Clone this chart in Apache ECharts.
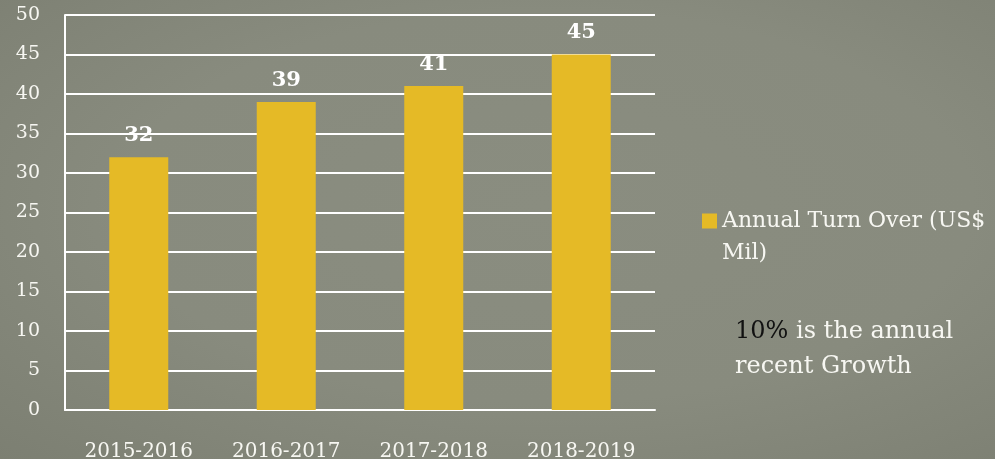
<!DOCTYPE html>
<html>
<head>
<meta charset="utf-8">
<script src="https://cdn.jsdelivr.net/npm/echarts@6/dist/echarts.min.js"></script>
<style>
html,body{margin:0;padding:0;background:#878a7d;}
#c{width:995px;height:459px;background:radial-gradient(ellipse at 55% 45%, #8a8d80 0%, #888b7e 55%, #7c7f72 100%);}
</style>
</head>
<body>
<div id="c"></div>
<script>
const categories = ['2015-2016', '2016-2017', '2017-2018', '2018-2019'];
const turnOver = [32, 39, 41, 45];
const seriesName = 'Annual Turn Over (US$ Mil)';
const yMin = 0, yMax = 50, yStep = 5;

const FONT = 'DejaVu Serif';
const chart = echarts.init(document.getElementById('c'));
chart.setOption({
  backgroundColor: 'transparent',
  animation: false,
  grid: {left: 65, right: 340, top: 15, bottom: 49, outerBoundsMode: 'none', containLabel: false},
  legend: {
    left: 697, top: 168,
    itemWidth: 15, itemHeight: 15,
    icon: 'rect',
    data: [seriesName],
    formatter: function () { return ' \nAnnual Turn Over (US$\nMil)'; },
    textStyle: {color: '#f7f7f2', fontFamily: FONT, fontSize: 22, lineHeight: 32}
  },
  xAxis: {
    type: 'category', data: categories,
    axisLine: {lineStyle: {color: '#ffffff', width: 2}},
    axisTick: {show: false},
    axisLabel: {color: '#f7f7f2', fontFamily: FONT, fontSize: 20, margin: 32}
  },
  yAxis: {
    type: 'value', min: yMin, max: yMax, interval: yStep,
    axisLine: {show: true, lineStyle: {color: '#ffffff', width: 2}},
    axisTick: {show: false},
    splitLine: {lineStyle: {color: '#ffffff', width: 2}},
    axisLabel: {color: '#f7f7f2', fontFamily: FONT, fontSize: 19, margin: 25}
  },
  series: [{
    name: seriesName, type: 'bar', data: turnOver,
    barWidth: '40%',
    itemStyle: {color: '#e5ba26'},
    label: {show: true, position: 'top', distance: 11, color: '#ffffff', fontFamily: FONT, fontWeight: 'bold', fontSize: 21}
  }],
  graphic: [{
    type: 'text', left: 735, top: 314,
    style: {
      text: '{k|10%} is the annual\nrecent Growth',
      fill: '#f7f7f2', font: '24px "DejaVu Serif"', lineHeight: 35,
      rich: {k: {fill: '#111111', font: '24px "DejaVu Serif"', lineHeight: 35}}
    }
  }]
});
</script>
</body>
</html>
